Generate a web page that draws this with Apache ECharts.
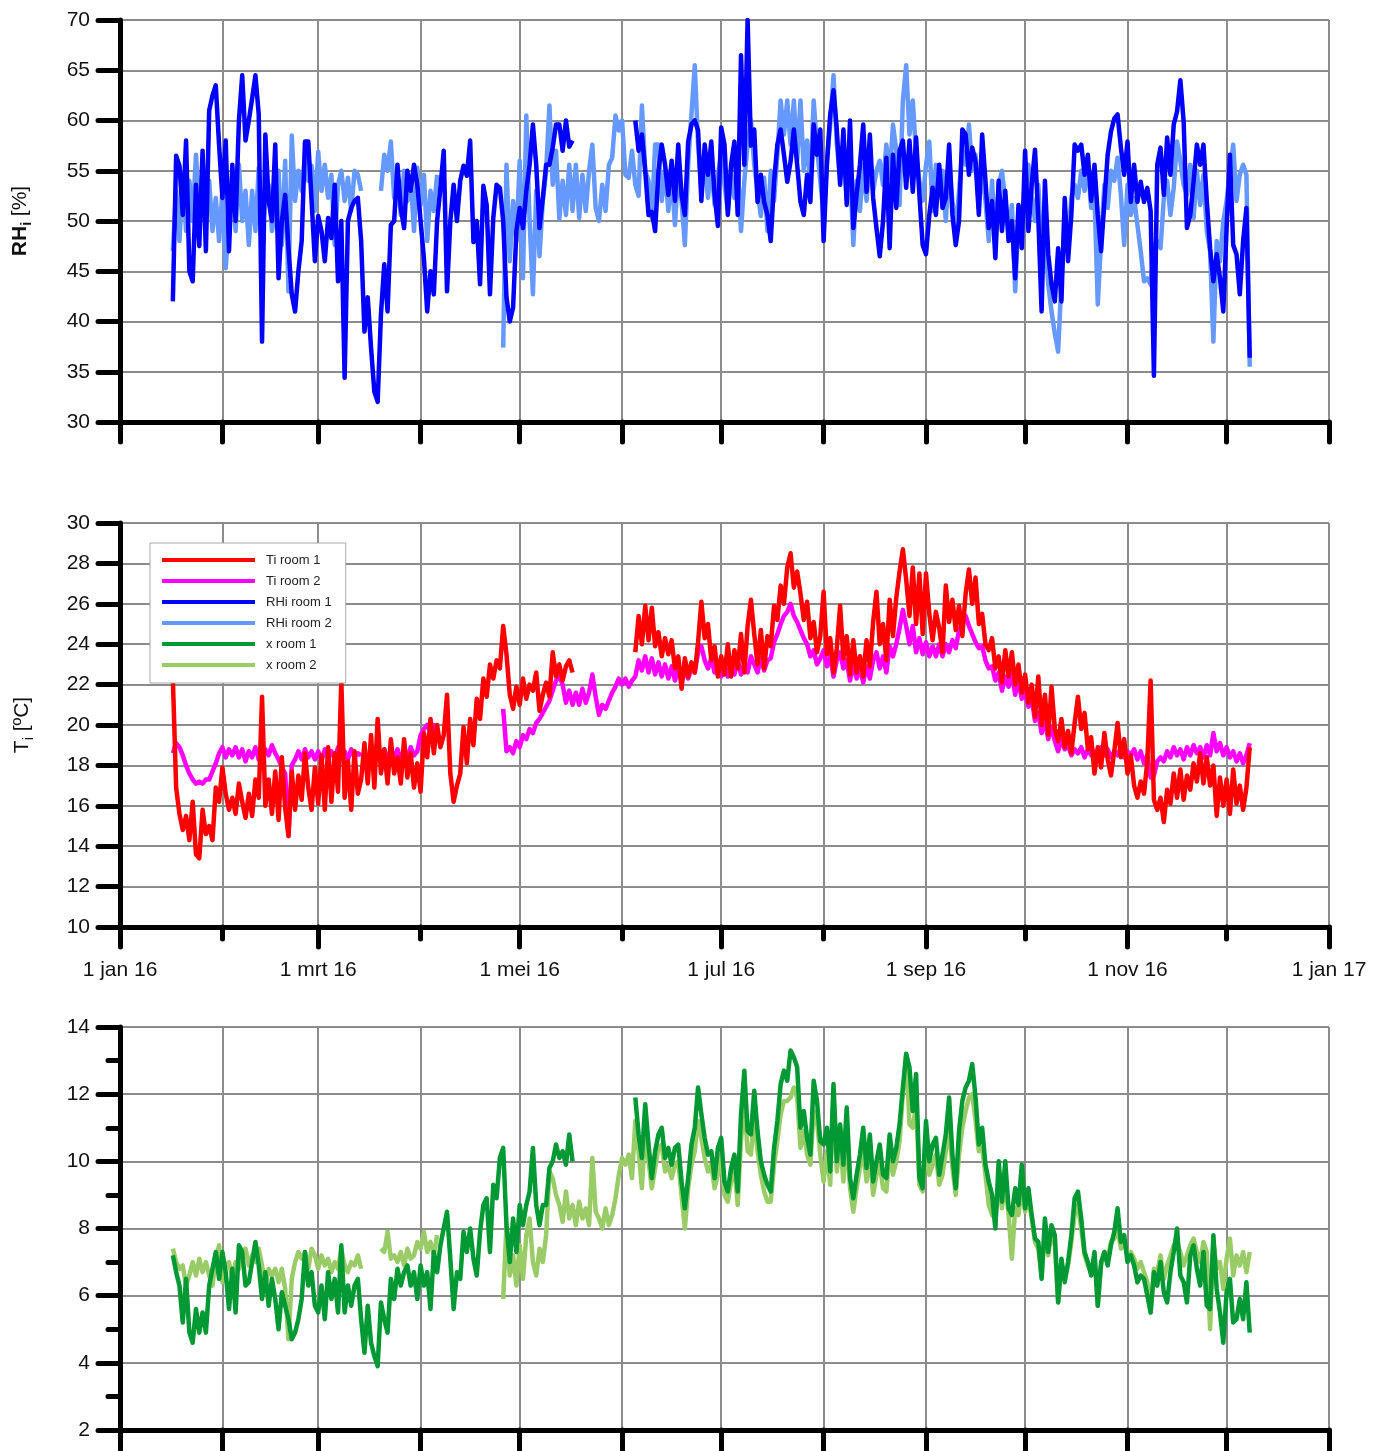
<!DOCTYPE html>
<html>
<head>
<meta charset="utf-8">
<title>Binnenklimaat 2016 – RHi, Ti en x per kamer</title>
<script src="https://cdn.jsdelivr.net/npm/echarts@6/dist/echarts.min.js"></script>
<style>
  html, body { margin: 0; padding: 0; background: #ffffff; }
  #chart { width: 1378px; height: 1451px; }
</style>
</head>
<body>
<div id="chart"></div>
<script>
// Daily readings, one value per day starting at day-of-year FIRST_DAY (17 jan 2016).
// null = no logger data for that day.
const FIRST_DAY = 16;

// Relative humidity [%]
const rhRoom1 = [
  42, 56.5, 55.5, 50.6, 58, 45, 44, 53.6, 47.5, 57,
  47, 61, 62.5, 63.5, 57.5, 52.3, 58, 47, 55.6, 50,
  60, 64.5, 58, 60, 62.2, 64.5, 60.6, 38, 58.6, 52,
  50, 57.6, 44.3, 50, 52.6, 47.3, 42.7, 41, 45, 48,
  57.9, 57.9, 52, 46, 50.5, 49, 46, 50.3, 48.3, 53.6,
  44, 50, 34.4, 50, 51.3, 52, 52.3, 48, 39, 42.4,
  37.4, 33, 32, 40.7, 45.7, 41, 49.6, 50, 55.6, 51.3,
  49.3, 55, 53, 55.6, 53.6, 50, 46.3, 41, 45, 42.7,
  50, 53.3, 57, 43, 50, 53.6, 50, 54, 55.5, 54.5,
  58, 47.9, 50, 43.7, 53.5, 51.6, 42.7, 50.3, 53.6, 53.3,
  50, 42.4, 40, 41.4, 49, 51.3, 49.3, 53, 55.6, 59.6,
  55.6, 49.3, 52.3, 55.6, 55.6, 57.3, 59.6, 59.6, 57, 60,
  57.4, 58, null, null, null, null, null, null, null, null,
  null, null, null, null, null, null, null, null, null, null,
  60, 57, 58.6, 55, 50.6, 50.9, 49, 55, 57.6, 55.6,
  52.6, 56, 52, 57.6, 52.6, 50.6, 57.9, 59.6, 60, 59,
  52, 57.6, 54.6, 57.9, 52.6, 49.5, 59.3, 57.6, 50.6, 55.6,
  57.9, 50.6, 66.5, 55.6, 70, 57.5, 59.1, 51.9, 54.6, 51.9,
  50.6, 48, 53.9, 57.6, 59.1, 56.6, 53.9, 55.9, 59.1, 55.6,
  51.9, 50.6, 54.6, 51.9, 59.6, 56.6, 59.1, 48, 55.6, 60.6,
  63, 59.1, 53.6, 59.1, 51.6, 60, 49.3, 52.6, 55.6, 59.6,
  52.9, 58.6, 52.3, 49.3, 46.5, 50, 56.3, 47.3, 56.6, 51.3,
  57, 58, 53.3, 58, 52.9, 58.3, 52.6, 47.6, 46.7, 50.6,
  53.3, 50.6, 55.6, 51.3, 52.3, 57.6, 50.6, 47.6, 50, 59.1,
  58.6, 54.6, 57.3, 55.9, 50.6, 58.6, 54, 49.3, 52, 46.3,
  54, 49, 53, 48, 50, 44.3, 51.6, 47.3, 57, 49,
  53.6, 57.1, 50.3, 41, 54, 46.7, 43.7, 42, 47.3, 42,
  52.3, 46, 50.6, 57.6, 57, 57.6, 54.6, 56.6, 52, 55.6,
  50.6, 47, 51.9, 56.6, 58.9, 60.2, 60.6, 57.3, 54.6, 57.9,
  51.9, 55.6, 51.9, 53.9, 51.9, 53.3, 51, 34.6, 55.6, 57.3,
  52.6, 58.3, 54.6, 59.6, 60.9, 64, 59.9, 49.3, 50.6, 53.9,
  57.6, 55.6, 57.6, 52, 47.3, 44, 46.7, 44.3, 41, 49.3,
  56.6, 47.6, 46.7, 42.7, 48, 51.3, 36.4
];

const rhRoom2 = [
  47, 53, 48, 54.6, 49, 54, 50, 56.6, 51, 55,
  50, 54, 49, 52.3, 48, 53, 45.3, 50, 54.6, 49,
  55.6, 50, 53, 47.6, 53, 49, 55.3, 47.6, 52.6, 53.6,
  49, 51, 55, 47.6, 56, 43, 58.5, 52, 55, 53,
  56.5, 54, 55.5, 51, 56.9, 53, 55.6, 52.3, 54.6, 47.6,
  53.6, 55, 52, 54.3, 51, 55, 54.6, 53, null, null,
  null, null, null, 53, 56.6, 55, 57.9, 52.3, 54.6, 50.6,
  55, 52, 54.3, 49, 55.3, 51.6, 54.6, 48, 53, 51,
  54.6, null, null, null, null, null, null, null, null, null,
  null, null, null, null, null, null, null, null, null, null,
  37.4, 55.6, 46, 52, 48, 56, 44.3, 60.5, 50, 42.7,
  53, 46.5, 52, 55, 61.5, 53.6, 57, 50.2, 54, 50.6,
  55.6, 51, 55.6, 50.3, 54.6, 51, 55, 57.6, 51.3, 50,
  53.6, 51, 55.6, 56.3, 60.5, 59, 60, 54.6, 54.3, 57,
  53.6, 52.5, 61.5, 55, 54, 50.3, 57.6, 57.6, 52, 55,
  51, 54.6, 49.6, 55, 52, 47.6, 55.6, 60.6, 65.5, 57.6,
  53, 56, 52.3, 55.6, 51.6, 54.6, 56.6, 53.6, 51, 54.6,
  52.3, 55.6, 49, 54, 57.6, 60, 55.6, 53, 50.5, 54.3,
  49, 55, 52, 56.6, 62, 58.6, 62, 57.6, 62, 56,
  62, 55, 58, 53.6, 62, 57.3, 54, 50.6, 56, 59.6,
  64.5, 57.6, 54.3, 56.6, 52.3, 55.6, 47.6, 54, 51, 55.6,
  52, 56, 53, 55, 56, 53.6, 57.6, 54.3, 59.6, 57,
  51.6, 62, 65.5, 58.6, 62, 56.6, 54, 52, 55.6, 57.9,
  51, 55.6, 52.6, 55, 50, 55.6, 52, 49, 53, 57,
  55.6, 59.6, 55, 56.6, 51.3, 55.3, 52, 48, 54, 47.6,
  53.6, 55, 52, 49, 51.6, 43, 50, 47.6, 53, 55.6,
  52.6, 50, 53.6, 46.7, 49, 43.7, 41, 38.8, 37, 44,
  50, 47.6, 52.3, 53.6, 52.3, 55, 53, 55.6, 51.3, 52.6,
  41.7, 48, 53.6, 51.3, 55, 54, 56.3, 52.6, 47.6, 53.6,
  50.6, 52.3, 49.6, 47, 44, 44.3, 43.7, 47.6, 48, 47.3,
  52.3, 54, 50.6, 53.3, 57.9, 56, 53.6, 52.6, 55.6, 50.3,
  55, 51.6, 54.6, 49, 47, 38, 48, 46, 50, 52,
  55, 57.6, 52, 54.6, 55.6, 54.6, 35.5
];

// Indoor temperature [ºC]
const tRoom1 = [
  22.3, 16.9, 15.6, 14.8, 15.5, 14.3, 16.2, 13.6, 13.4, 15.8,
  14.6, 15.0, 14.3, 16.9, 16.2, 17.9, 16.6, 15.8, 16.4, 15.6,
  17.1, 16.2, 15.4, 16.6, 15.5, 17.3, 16.4, 21.4, 16, 17.3,
  15.6, 17.7, 15.3, 18.4, 15.9, 14.5, 17.7, 15.8, 17.5, 16.3,
  18.6, 16.9, 15.8, 17.9, 16.1, 18.5, 15.8, 18.9, 16.2, 18.6,
  16.7, 22.2, 16.4, 18.2, 15.8, 18.7, 16.6, 17.3, 19.1, 17.1,
  19.5, 16.9, 20.3, 17.6, 18.8, 17.1, 19.3, 17.6, 18.4, 17.1,
  19.3, 17.4, 18.6, 16.9, 18.1, 16.7, 19.6, 18.4, 20.3, 18.6,
  20, 18.9, 19.5, 21.5, 17.6, 16.2, 17, 17.6, 19.9, 18.1,
  20.3, 19.0, 21.3, 20.3, 22.3, 21.4, 23.0, 22.3, 23.2, 22.8,
  24.9, 23.5, 21.5, 20.8, 21.9, 21.0, 22.3, 21.3, 22.0, 21.7,
  22.6, 20.7, 21.5, 22.1, 21.4, 23.6, 22.4, 23.0, 22.2, 22.9,
  23.2, 22.6, null, null, null, null, null, null, null, null,
  null, null, null, null, null, null, null, null, null, null,
  23.6, 25.4, 24, 25.9, 24.2, 25.8, 23.9, 24.6, 23.4, 24.3,
  23.5, 24.2, 22.8, 23.4, 21.8, 23.3, 22.4, 23.1, 22.6, 24.1,
  26.1, 24.3, 25.0, 23.2, 23.9, 22.4, 23.4, 22.5, 24.0, 22.4,
  23.7, 22.8, 24.5, 22.6, 24.9, 26.2, 24.5, 23.0, 24.7, 22.8,
  24.4, 23.9, 25.9, 25.2, 26.9, 26.0, 27.8, 28.5, 26.8, 27.6,
  26.5, 25.2, 26.1, 24.3, 25.1, 23.6, 24.4, 26.6, 23.5, 24.3,
  22.6, 23.8, 25.9, 23.3, 24.4, 22.5, 24.2, 22.6, 23.4, 22.4,
  24.2, 22.9, 25.1, 26.6, 24.0, 25.0, 23.2, 26.2, 24.4, 26.3,
  27.6, 28.7, 27.2, 25.4, 27.8, 25.0, 27.5, 24.5, 27.5, 25.5,
  24.2, 25.6, 24.8, 23.6, 26.9, 25.1, 26.2, 24.7, 25.9, 24.4,
  26.5, 27.7, 26.0, 27.3, 25.0, 25.5, 24.0, 23.7, 24.3, 22.8,
  23.4, 22.1, 23.7, 22.4, 23.6, 22.0, 23.0, 21.6, 22.5, 21.1,
  22.0, 20.4, 22.4, 20.0, 21.5, 19.5, 21.9, 19.8, 19.2, 20.3,
  18.9, 19.7, 18.6, 20.1, 21.4, 19.8, 20.6, 18.8, 19.4, 17.6,
  18.9, 17.9, 19.6, 18.3, 17.5, 18.7, 20.1, 18.4, 19.3, 17.6,
  18.5, 17.0, 16.4, 17.2, 16.6, 18.2, 22.2, 16.3, 15.8, 16.4,
  15.2, 16.8, 16.1, 17.6, 16.4, 17.8, 16.3, 17.5, 16.8, 18.1,
  17.2, 18.6, 17.1, 18.4, 17.0, 18.0, 15.5, 17.4, 16.0, 17.3,
  15.6, 17.8, 16.1, 17.0, 15.8, 16.9, 18.9
];

const tRoom2 = [
  18.6, 19.1, 18.9, 18.5, 18.0, 17.6, 17.3, 17.1, 17.2, 17.1,
  17.3, 17.3, 17.7, 18.1, 18.6, 18.9, 18.4, 18.8, 18.5, 18.9,
  18.4, 18.8, 18.2, 18.7, 18.4, 18.9, 18.3, 18.6, 18.8, 18.5,
  19.0, 18.6, 18.3, 17.9, 17.6, 14.5, 18.0, 18.3, 18.7, 18.3,
  18.8, 18.4, 18.7, 18.3, 18.7, 18.2, 18.8, 18.4, 18.7, 18.3,
  18.9, 18.5, 18.7, 18.3, 18.8, 18.4, 18.6, 18.5, null, null,
  null, null, null, 18.5, 18.8, 18.3, 18.7, 18.4, 18.8, 18.3,
  18.6, 18.4, 18.9, 18.5, 18.7, 19.5, 19.8, 20.0, 19.7, 20.0,
  19.6, null, null, null, null, null, null, null, null, null,
  null, null, null, null, null, null, null, null, null, null,
  20.8, 18.7, 18.9, 18.6, 19.2, 18.9, 19.5, 19.3, 19.8, 19.6,
  20.1, 20.3, 20.6, 20.9, 21.2, 21.7, 22.2, 22.4, 22.0, 21.1,
  21.7, 21.0, 21.6, 21.0, 21.8, 21.1, 21.6, 22.5, 21.4, 20.5,
  21.0, 20.8, 21.2, 21.6, 21.9, 22.3, 22.0, 22.3, 21.9, 22.2,
  22.4, 23.2, 22.7, 23.4, 22.6, 23.3, 22.5, 23.1, 22.4, 23.0,
  22.3, 22.9, 22.2, 22.8, 22.2, 22.7, 22.3, 22.8, 22.6, 23.6,
  23.9, 23.2, 22.8, 23.3, 22.6, 23.0, 22.4, 22.9, 22.4, 23.1,
  22.5, 23.2, 22.5, 23.0, 22.6, 23.4, 23.0, 22.6, 23.3, 22.7,
  23.2, 23.3, 24.1, 24.5, 25.0, 25.4, 25.6, 26.0, 25.4, 25.1,
  24.7, 24.3, 24.0, 23.4, 23.7, 23.0, 23.3, 23.7, 22.9, 23.4,
  22.4, 23.2, 23.6, 22.8, 23.2, 22.2, 23.0, 22.3, 22.8, 22.1,
  22.9, 22.3, 23.2, 23.6, 22.8, 23.4, 22.6, 23.9, 23.4, 24.0,
  24.8, 25.7, 24.9, 24.0, 24.9, 23.6, 24.3, 23.5, 24.1, 23.4,
  23.9, 23.4, 24.0, 23.4, 24.0, 23.6, 24.2, 23.8, 24.7, 25.0,
  25.4, 24.9, 24.5, 24.1, 23.8, 23.9, 23.2, 22.8, 22.9, 22.2,
  22.6, 21.7, 22.4, 21.9, 22.5, 21.5, 22.2, 21.3, 21.6, 20.9,
  21.3, 20.2, 20.6, 19.6, 20.2, 19.3, 19.9, 19.2, 18.7, 19.3,
  18.8, 19.0, 18.5, 18.8, 18.6, 18.9, 18.4, 18.8, 18.5, 18.7,
  18.4, 18.9, 18.5, 18.8, 18.4, 18.7, 18.5, 18.9, 18.4, 18.7,
  18.5, 18.8, 18.3, 18.7, 18.1, 18.5, 17.4, 17.5, 18.2, 18.4,
  18.2, 18.7, 18.4, 18.9, 18.5, 18.8, 18.3, 18.9, 18.5, 19.0,
  18.6, 18.9, 18.4, 19.0, 18.5, 19.6, 18.7, 19.1, 18.5, 18.9,
  18.4, 18.7, 18.2, 18.6, 18.1, 18.5, 19.1
];

// Absolute humidity x [g/kg]
const xRoom1 = [
  7.2, 6.7, 6.3, 5.2, 6.5, 4.9, 4.6, 5.6, 4.9, 5.5,
  4.9, 6.3, 6.8, 7.3, 6.5, 7.3, 6.7, 5.6, 6.8, 5.5,
  7.5, 7.3, 6.3, 6.4, 7.0, 7.6, 6.9, 5.9, 6.7, 5.7,
  6.5, 5.9, 5.0, 6.1, 5.7, 5.3, 4.7, 4.9, 5.3, 5.9,
  7.3, 6.3, 6.7, 5.7, 5.5, 6.3, 5.3, 6.7, 5.9, 6.5,
  5.5, 7.5, 5.5, 6.3, 5.7, 6.3, 6.5, 5.3, 4.3, 5.7,
  4.6, 4.2, 3.9, 5.8, 5.3, 4.9, 6.5, 5.9, 6.8, 6.3,
  6.7, 6.9, 6.3, 6.7, 5.9, 6.9, 6.3, 6.7, 5.6, 7.3,
  6.7, 7.5, 8.0, 8.5, 7.1, 5.6, 6.7, 6.5, 7.9, 7.3,
  8.0, 7.1, 6.6, 7.9, 8.7, 8.9, 7.3, 9.3, 8.9, 10.1,
  10.4, 8.1, 7.0, 8.3, 7.3, 8.7, 8.1, 8.7, 9.1, 10.4,
  8.7, 8.1, 8.7, 8.7, 9.8, 10.0, 10.5, 10.1, 10.3, 9.9,
  10.8, 10.0, null, null, null, null, null, null, null, null,
  null, null, null, null, null, null, null, null, null, null,
  11.9, 10.8, 10.1, 11.7, 10.5, 9.5, 10.3, 10.8, 11.0, 10.1,
  10.4, 9.9, 10.4, 10.5, 9.4, 8.6, 9.5, 10.5, 11.0, 12.2,
  11.4, 10.7, 10.2, 10.3, 9.5, 10.4, 10.7, 9.4, 9.1, 9.8,
  10.2, 9.1, 11.4, 12.7, 10.9, 10.8, 12.1, 10.9, 10.0, 9.6,
  9.3, 9.1, 10.4, 11.2, 12.3, 12.7, 12.4, 13.3, 13.1, 12.8,
  11.0, 11.5, 10.7, 10.2, 12.4, 11.8, 10.6, 10.5, 11.0, 9.7,
  12.3, 10.0, 11.1, 9.9, 11.6, 9.5, 8.9, 9.6, 10.2, 11.0,
  9.8, 10.8, 9.4, 10.0, 10.5, 9.6, 9.5, 10.8, 10.0, 10.4,
  11.1, 12.2, 13.2, 12.8, 11.5, 12.6, 9.5, 9.2, 11.2, 10.0,
  10.5, 10.7, 9.6, 10.2, 10.8, 11.9, 10.2, 9.2, 10.9, 11.8,
  12.2, 12.4, 12.9, 11.9, 10.5, 11.0, 9.9, 9.4, 9.0, 8.0,
  10.0, 8.8, 10.0, 8.6, 8.4, 9.2, 8.7, 9.9, 8.6, 9.2,
  8.4, 7.7, 7.6, 6.5, 8.3, 7.3, 8.1, 7.8, 5.8, 7.1,
  6.4, 7.0, 7.8, 8.9, 9.1, 8.3, 7.3, 7.0, 6.6, 7.3,
  5.7, 7.0, 7.3, 6.9, 7.5, 7.9, 8.6, 7.6, 7.8, 7.0,
  7.2, 6.9, 6.4, 6.6, 6.5, 6.0, 5.5, 6.7, 6.3, 7.0,
  6.1, 5.8, 6.7, 7.3, 8.0, 6.6, 6.4, 5.8, 7.2, 7.5,
  6.8, 6.3, 7.3, 5.7, 5.6, 7.8, 6.2, 5.5, 4.6, 6.1,
  6.5, 5.2, 5.3, 5.9, 5.3, 6.4, 4.9
];

const xRoom2 = [
  7.4, 7.0, 6.8, 6.9, 6.3, 6.6, 7.0, 6.6, 7.1, 6.7,
  7.0, 6.6, 6.3, 7.1, 7.5, 6.4, 6.9, 7.0, 6.5, 7.0,
  6.8, 7.3, 7.4, 6.9, 7.2, 7.0, 7.4, 6.9, 6.3, 6.8,
  6.6, 6.8, 6.4, 6.8, 6.2, 4.7, 6.5, 7.0, 7.3, 7.1,
  7.3, 6.8, 7.4, 7.2, 6.8, 7.2, 6.9, 7.1, 6.7, 7.0,
  6.8, 7.4, 6.9, 6.7, 7.0, 6.9, 7.2, 6.8, null, null,
  null, null, null, 7.4, 7.3, 7.9, 7.1, 7.2, 7.0, 7.3,
  6.9, 7.4, 7.1, 7.2, 7.6, 7.4, 7.9, 7.3, 7.6, 7.2,
  7.8, null, null, null, null, null, null, null, null, null,
  null, null, null, null, null, null, null, null, null, null,
  5.9, 8.1, 6.6, 7.2, 6.3, 7.5, 6.5, 7.8, 8.3, 7.0,
  6.6, 7.4, 7.0, 7.8, 9.7, 9.5, 9.0, 8.7, 8.2, 9.1,
  8.3, 8.7, 8.1, 8.8, 8.3, 8.6, 8.1, 10.1, 8.5, 8.3,
  8.0, 8.6, 8.1, 8.4, 8.9, 9.6, 10.1, 9.9, 10.2, 9.5,
  11.2, 10.3, 9.2, 11.0, 10.0, 9.2, 9.8, 10.4, 10.5, 9.7,
  9.9, 9.5, 9.9, 10.0, 9.0, 8.0, 9.2, 9.9, 10.3, 11.2,
  10.7, 10.1, 9.7, 9.9, 9.2, 9.6, 10.2, 9.0, 8.8, 9.4,
  9.8, 8.7, 10.6, 11.8, 10.3, 10.2, 11.3, 10.3, 9.6, 9.1,
  8.8, 8.8, 9.9, 10.6, 11.4, 11.8, 11.8, 11.9, 12.2, 11.9,
  10.4, 10.9, 10.2, 9.9, 11.5, 11.2, 10.2, 9.4, 10.3, 9.3,
  12.0, 9.7, 10.6, 9.4, 10.8, 9.2, 8.5, 9.2, 9.8, 10.3,
  9.4, 10.2, 9.0, 9.6, 9.9, 9.2, 9.1, 10.3, 9.6, 10.0,
  10.6, 12.0, 13.2, 11.1, 11.0, 11.7, 9.3, 9.1, 10.5, 9.6,
  9.9, 10.2, 9.3, 9.6, 10.3, 11.0, 9.8, 9.0, 10.2, 11.0,
  11.5, 11.9, 12.0, 11.2, 10.3, 10.4, 9.6, 8.7, 8.4, 8.3,
  9.3, 8.6, 9.4, 8.4, 7.1, 8.6, 8.4, 9.3, 8.5, 8.9,
  8.3, 7.6, 7.4, 6.6, 8.0, 7.2, 7.9, 7.5, 5.8, 6.9,
  6.5, 6.9, 7.6, 8.4, 8.7, 8.0, 7.2, 6.9, 6.7, 7.2,
  5.7, 6.9, 7.3, 7.1, 7.6, 7.7, 8.0, 7.4, 7.6, 7.2,
  7.3, 7.1, 6.8, 7.0, 6.7, 6.4, 5.5, 6.8, 6.7, 7.2,
  6.5, 6.9, 7.2, 7.5, 7.6, 7.3, 6.9, 7.2, 7.5, 7.7,
  7.3, 7.0, 7.6, 7.3, 5.0, 7.6, 6.8, 7.0, 6.2, 7.1,
  7.7, 6.6, 7.2, 6.9, 7.3, 6.7, 7.3
];

// Time axis: day-of-year of each month start in 2016 (leap year), plus 1 jan 2017
const monthStarts = [0, 31, 60, 91, 121, 152, 182, 213, 244, 274, 305, 335, 366];
const labelledMonthStarts = [0, 60, 121, 182, 244, 305, 366];
const monthTickLabels = ['1 jan 16', '1 mrt 16', '1 mei 16', '1 jul 16', '1 sep 16', '1 nov 16', '1 jan 17'];

const FONT = '"Liberation Sans", Arial, Helvetica, sans-serif';
const GRID_LINE = { color: '#8c8c8c', width: 2 };
const BLACK_LINE = { color: '#000000', width: 5, cap: 'round' };
const SERIES_WIDTH = 4.5;

function toPairs(values) {
  return values.map((v, i) => [FIRST_DAY + i, v]);
}

function timeAxis(gridIndex, extra) {
  return Object.assign({
    type: 'value',
    gridIndex: gridIndex,
    min: 0,
    max: 366,
    position: 'bottom',
    axisLine: { show: true, onZero: false, lineStyle: BLACK_LINE },
    axisTick: { show: true, customValues: monthStarts, length: 20, lineStyle: BLACK_LINE },
    axisLabel: { show: false },
    splitLine: { show: true, lineStyle: GRID_LINE }
  }, extra || {});
}

function levelAxis(gridIndex, min, max, step, extra) {
  return Object.assign({
    type: 'value',
    gridIndex: gridIndex,
    min: min,
    max: max,
    interval: step,
    axisLine: { show: true, onZero: false, lineStyle: BLACK_LINE },
    axisTick: { show: true, length: 22, lineStyle: BLACK_LINE },
    axisLabel: { color: '#111111', fontSize: 21, fontFamily: FONT, margin: 30 },
    splitLine: { show: true, lineStyle: GRID_LINE }
  }, extra || {});
}

function lineSeries(name, values, color, xAxisIndex, yAxisIndex, z) {
  return {
    type: 'line',
    name: name,
    xAxisIndex: xAxisIndex,
    yAxisIndex: yAxisIndex,
    data: toPairs(values),
    showSymbol: false,
    symbol: 'none',
    connectNulls: false,
    z: z,
    lineStyle: { color: color, width: SERIES_WIDTH, join: 'round' },
    itemStyle: { color: color },
    emphasis: { disabled: true }
  };
}

const nameRich = {
  b: { fontFamily: FONT, fontSize: 21, fontWeight: 'bold', color: '#111111', lineHeight: 28 },
  bs: { fontFamily: FONT, fontSize: 14, fontWeight: 'bold', color: '#111111', lineHeight: 14, verticalAlign: 'bottom' },
  n: { fontFamily: FONT, fontSize: 21, color: '#111111', lineHeight: 28 },
  s: { fontFamily: FONT, fontSize: 14, color: '#111111', lineHeight: 14, verticalAlign: 'bottom' }
};

const chart = echarts.init(document.getElementById('chart'), null, { renderer: 'canvas' });

chart.setOption({
  animation: false,
  backgroundColor: '#ffffff',
  textStyle: { fontFamily: FONT },
  grid: [
    { left: 120, top: 20, width: 1209, height: 402 },
    { left: 120, top: 523, width: 1209, height: 404 },
    { left: 120, top: 1027, width: 1209, height: 403 }
  ],
  xAxis: [
    timeAxis(0),
    timeAxis(1, {
      axisTick: { show: true, customValues: monthStarts, length: 12, lineStyle: BLACK_LINE }
    }),
    timeAxis(1, {
      axisLine: { show: false },
      axisTick: { show: true, customValues: labelledMonthStarts, length: 20, lineStyle: BLACK_LINE },
      axisLabel: {
        show: true,
        customValues: labelledMonthStarts,
        color: '#111111',
        fontSize: 21,
        fontFamily: FONT,
        margin: 33,
        formatter: function (value) {
          const idx = labelledMonthStarts.indexOf(Math.round(value));
          return idx >= 0 ? monthTickLabels[idx] : '';
        }
      },
      splitLine: { show: false }
    }),
    timeAxis(2)
  ],
  yAxis: [
    levelAxis(0, 30, 70, 5, {
      name: '{b|RH}{bs|i}{n| [%]}',
      nameLocation: 'middle',
      nameRotate: 90,
      nameGap: 86,
      nameTextStyle: { rich: nameRich }
    }),
    levelAxis(1, 10, 30, 2, {
      name: '{n|T}{s|i}{n| [ºC]}',
      nameLocation: 'middle',
      nameRotate: 90,
      nameGap: 84,
      nameTextStyle: { rich: nameRich }
    }),
    levelAxis(2, 2, 14, 2, {
      minorTick: { show: true, splitNumber: 2, length: 12, lineStyle: BLACK_LINE },
      minorSplitLine: { show: false }
    })
  ],
  legend: {
    orient: 'vertical',
    left: 150,
    top: 543,
    padding: [10, 14, 11, 12],
    backgroundColor: '#ffffff',
    borderColor: '#a8a8a8',
    borderWidth: 1,
    borderRadius: 0,
    icon: 'rect',
    itemWidth: 93,
    itemHeight: 4,
    itemGap: 7,
    selectedMode: false,
    textStyle: { fontFamily: FONT, fontSize: 13, color: '#222222', lineHeight: 14, padding: [0, 0, 0, 6] },
    data: ['Ti room 1', 'Ti room 2', 'RHi room 1', 'RHi room 2', 'x room 1', 'x room 2']
  },
  series: [
    lineSeries('RHi room 2', rhRoom2, '#6699ff', 0, 0, 2),
    lineSeries('RHi room 1', rhRoom1, '#0000ff', 0, 0, 3),
    lineSeries('Ti room 2', tRoom2, '#ff00ff', 1, 1, 2),
    lineSeries('Ti room 1', tRoom1, '#ff0000', 1, 1, 3),
    lineSeries('x room 2', xRoom2, '#99cc66', 3, 2, 2),
    lineSeries('x room 1', xRoom1, '#009933', 3, 2, 3)
  ]
});
</script>
</body>
</html>
